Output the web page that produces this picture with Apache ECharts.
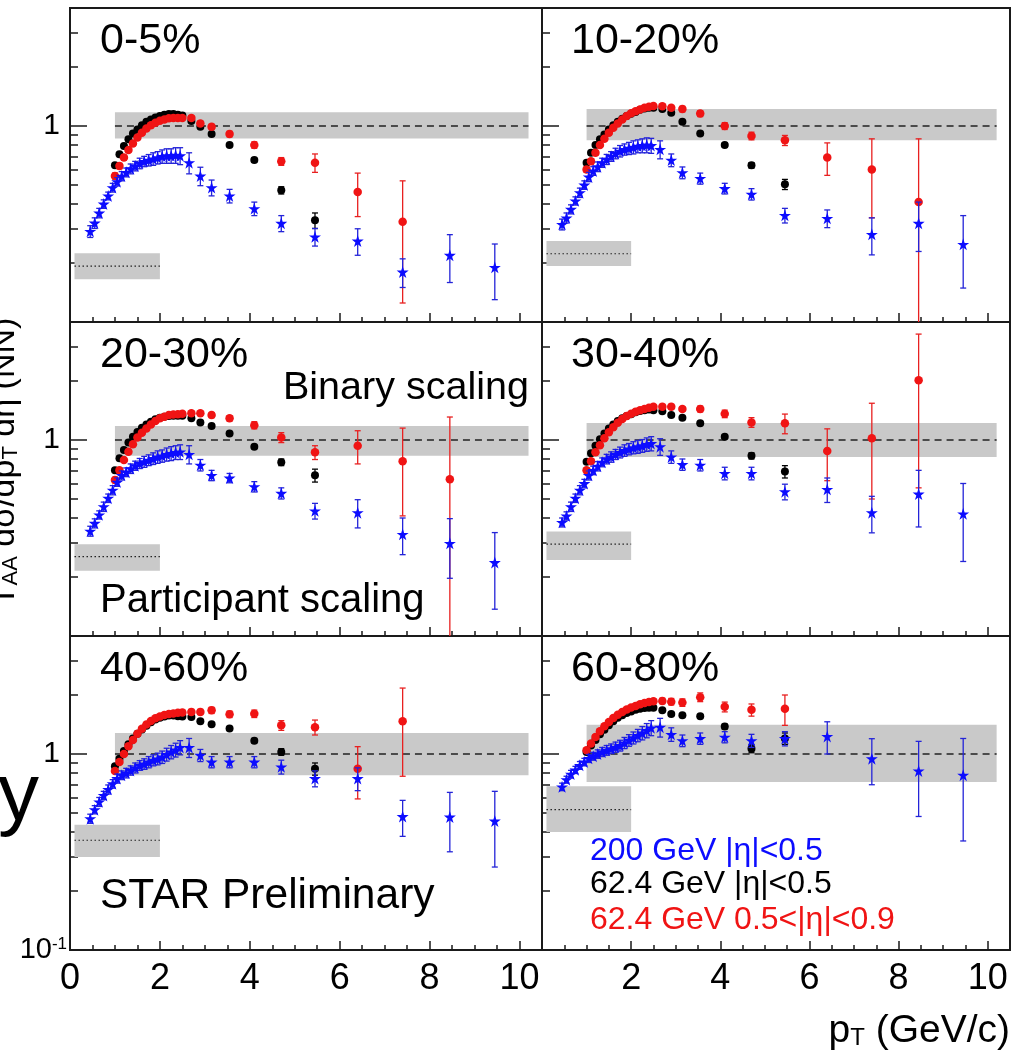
<!DOCTYPE html>
<html><head><meta charset="utf-8">
<script src="https://cdn.jsdelivr.net/npm/echarts@6/dist/echarts.min.js"></script>
<style>html,body{margin:0;padding:0;background:#fff}#c{width:1014px;height:1053px}</style>
</head><body><div id="c"></div><script>
// ---------------- DATA ----------------
const centrality = ['0-5%', '10-20%', '20-30%', '30-40%', '40-60%', '60-80%'];
const xTickLabelsLeft = [0, 2, 4, 6, 8, 10];
const xTickLabelsRight = [2, 4, 6, 8, 10];
const yMinorTicks = [0.2, 0.3, 0.4, 0.5, 0.6, 0.7, 0.8, 0.9, 2, 3];
const xMinorTicks = [0.5, 1, 1.5, 2.5, 3, 3.5, 4.5, 5, 5.5, 6.5, 7, 7.5, 8.5, 9, 9.5];
const xMajorTicks = [2, 4, 6, 8, 10];

// pT bins (GeV/c)
const ptBlue = [0.45,0.55,0.65,0.75,0.85,0.95,1.05,1.15,1.25,1.35,1.45,1.55,1.65,1.75,1.85,1.95,2.05,2.15,2.25,2.35,2.45,
  2.65,2.9,3.15,3.55,4.1,4.7,5.45,6.4,7.4,8.45,9.45];
const ptBlack = [1.0,1.1,1.2,1.3,1.4,1.5,1.6,1.7,1.8,1.9,2.0,2.1,2.2,2.3,2.4,2.5, 2.7,2.9,3.15,3.55,4.1,4.7,5.45];
const ptRed = [1.0,1.1,1.2,1.3,1.4,1.5,1.6,1.7,1.8,1.9,2.0,2.1,2.2,2.3,2.4,2.5, 2.7,2.9,3.15,3.55,4.1,4.7,5.45,6.4,7.4,8.45];

// 200 GeV |eta|<0.5 (blue), one list per centrality panel
const blue200 = [
  [0.29,0.32,0.36,0.40,0.44,0.485,0.52,0.555,0.58,0.605,0.625,0.645,0.66,0.67,0.68,0.69,0.70,0.705,0.705,0.71,0.705, 0.65,0.556,0.485,0.44,0.379,0.319,0.272,0.259,0.18,0.219,0.19],
  [0.315,0.34,0.376,0.415,0.457,0.50,0.55,0.59,0.62,0.65,0.676,0.70,0.725,0.745,0.76,0.77,0.78,0.79,0.795,0.80,0.795, 0.76,0.67,0.578,0.54,0.48,0.449,0.35,0.338,0.28,0.319,0.249],
  [0.343,0.376,0.415,0.457,0.505,0.555,0.61,0.66,0.685,0.715,0.74,0.76,0.775,0.79,0.805,0.82,0.83,0.845,0.855,0.865,0.87, 0.845,0.745,0.66,0.64,0.578,0.535,0.435,0.426,0.33,0.297,0.237],
  [0.38,0.41,0.457,0.505,0.555,0.60,0.66,0.70,0.735,0.77,0.80,0.82,0.845,0.865,0.885,0.90,0.915,0.925,0.935,0.95,0.96, 0.925,0.82,0.75,0.745,0.676,0.676,0.545,0.56,0.426,0.53,0.42],
  [0.468,0.52,0.57,0.615,0.66,0.705,0.75,0.78,0.80,0.825,0.85,0.875,0.89,0.91,0.93,0.945,0.965,0.995,1.025,1.05,1.08, 1.08,0.985,0.91,0.91,0.91,0.86,0.75,0.75,0.48,0.477,0.455],
  [0.68,0.74,0.79,0.83,0.875,0.91,0.95,0.975,1.0,1.025,1.045,1.065,1.085,1.105,1.14,1.175,1.21,1.245,1.28,1.32,1.36, 1.37,1.26,1.17,1.2,1.22,1.17,1.2,1.23,0.947,0.82,0.78]
];
const blue200Err = [
  [0.02,0.02,0.02,0.02,0.02,0.025,0.025,0.03,0.03,0.035,0.035,0.04,0.04,0.045,0.05,0.05,0.055,0.06,0.06,0.065,0.07, 0.08,0.06,0.045,0.035,0.03,0.03,0.028,0.04,0.03,0.06,0.06],
  [0.02,0.02,0.02,0.02,0.025,0.025,0.03,0.03,0.035,0.035,0.04,0.04,0.045,0.05,0.05,0.055,0.06,0.06,0.065,0.07,0.07, 0.08,0.05,0.04,0.035,0.03,0.03,0.03,0.035,0.06,0.09,0.1],
  [0.02,0.02,0.02,0.025,0.025,0.03,0.03,0.035,0.035,0.04,0.04,0.045,0.05,0.05,0.055,0.06,0.06,0.065,0.07,0.07,0.075, 0.09,0.05,0.04,0.035,0.035,0.035,0.04,0.07,0.07,0.1,0.1],
  [0.02,0.02,0.025,0.025,0.03,0.03,0.035,0.035,0.04,0.04,0.045,0.05,0.05,0.055,0.06,0.06,0.065,0.07,0.07,0.075,0.08, 0.09,0.06,0.05,0.05,0.05,0.05,0.05,0.08,0.09,0.17,0.18],
  [0.025,0.025,0.03,0.03,0.035,0.035,0.04,0.04,0.045,0.045,0.05,0.05,0.055,0.06,0.06,0.065,0.07,0.075,0.08,0.085,0.09, 0.12,0.07,0.06,0.06,0.06,0.07,0.07,0.1,0.1,0.16,0.19],
  [0.03,0.03,0.035,0.035,0.04,0.04,0.045,0.045,0.05,0.055,0.06,0.06,0.065,0.07,0.075,0.08,0.085,0.09,0.1,0.11,0.12, 0.15,0.1,0.08,0.08,0.08,0.09,0.1,0.23,0.25,0.34,0.42]
];

// 62.4 GeV |eta|<0.5 (black)
const black62 = [
  [0.63,0.717,0.79,0.855,0.915,0.96,1.01,1.05,1.08,1.105,1.125,1.14,1.15,1.15,1.14,1.13, 1.06,0.99,0.91,0.80,0.67,0.47,0.33],
  [0.65,0.73,0.80,0.855,0.905,0.96,1.01,1.05,1.09,1.125,1.155,1.18,1.21,1.23,1.24,1.24, 1.22,1.17,1.05,0.915,0.80,0.63,0.504],
  [0.70,0.806,0.89,0.97,1.04,1.10,1.155,1.20,1.24,1.275,1.30,1.315,1.325,1.33,1.33,1.33, 1.29,1.23,1.18,1.08,0.925,0.77,0.66],
  [0.775,0.855,0.935,1.01,1.08,1.145,1.20,1.25,1.29,1.325,1.355,1.385,1.405,1.42,1.43,1.42, 1.40,1.34,1.30,1.216,1.04,0.83,0.69],
  [0.865,0.945,1.035,1.12,1.20,1.27,1.335,1.395,1.45,1.50,1.53,1.555,1.57,1.57,1.56,1.555, 1.545,1.47,1.42,1.35,1.17,1.025,0.84],
  [1.025,1.105,1.18,1.26,1.33,1.40,1.47,1.53,1.575,1.62,1.65,1.68,1.70,1.715,1.72,1.72, 1.67,1.60,1.575,1.56,1.38,1.065,1.2]
];
const black62Err = [
  [0,0,0,0,0,0,0,0,0,0,0,0,0,0,0,0, 0.01,0.01,0.01,0.01,0.015,0.02,0.03],
  [0,0,0,0,0,0,0,0,0,0,0,0,0,0,0,0, 0.01,0.01,0.01,0.015,0.015,0.02,0.03],
  [0,0,0,0,0,0,0,0,0,0,0,0,0,0,0,0, 0.01,0.01,0.015,0.015,0.02,0.03,0.05],
  [0,0,0,0,0,0,0,0,0,0,0,0,0,0,0,0, 0.01,0.015,0.015,0.02,0.02,0.03,0.05],
  [0,0,0,0,0,0,0,0,0,0,0,0,0,0,0,0, 0.015,0.015,0.02,0.02,0.03,0.04,0.06],
  [0,0,0,0,0,0,0,0,0,0,0,0,0,0,0,0, 0.02,0.02,0.02,0.03,0.04,0.05,0.08]
];

// 62.4 GeV 0.5<|eta|<0.9 (red)
const red62 = [
  [0.556,0.625,0.69,0.755,0.815,0.873,0.925,0.97,1.01,1.04,1.065,1.08,1.095,1.10,1.10,1.10, 1.10,1.03,0.99,0.91,0.80,0.66,0.65,0.46,0.325],
  [0.60,0.66,0.73,0.80,0.86,0.925,0.98,1.03,1.08,1.125,1.16,1.19,1.215,1.24,1.255,1.265, 1.26,1.24,1.22,1.157,1.0,0.89,0.845,0.69,0.60,0.41],
  [0.625,0.70,0.79,0.87,0.95,1.03,1.09,1.145,1.20,1.25,1.29,1.315,1.34,1.35,1.355,1.36, 1.37,1.37,1.34,1.29,1.19,1.03,0.865,0.935,0.78,0.63],
  [0.70,0.78,0.865,0.94,1.02,1.095,1.16,1.225,1.28,1.325,1.36,1.395,1.42,1.44,1.46,1.48, 1.48,1.48,1.44,1.44,1.36,1.23,1.216,0.88,1.02,2.02],
  [0.82,0.91,1.0,1.095,1.18,1.27,1.345,1.415,1.475,1.52,1.555,1.58,1.60,1.61,1.625,1.63, 1.64,1.64,1.67,1.595,1.605,1.40,1.37,0.84,1.47],
  [1.045,1.13,1.22,1.305,1.385,1.455,1.525,1.585,1.64,1.685,1.725,1.76,1.795,1.82,1.84,1.86, 1.865,1.85,1.83,1.95,1.74,1.68,1.70]
];
const red62Err = [
  [0.02,0.02,0.02,0.02,0.02,0.02,0.02,0.02,0.02,0.02,0.02,0.02,0.02,0.02,0.02,0.02, 0.03,0.03,0.03,0.03,0.03,0.03,0.07,0.115,0.2],
  [0.02,0.02,0.02,0.02,0.02,0.02,0.02,0.02,0.02,0.02,0.025,0.025,0.025,0.025,0.025,0.025, 0.03,0.03,0.04,0.04,0.04,0.04,0.05,0.13,0.26,0.45],
  [0.02,0.02,0.02,0.02,0.02,0.02,0.02,0.02,0.025,0.025,0.025,0.025,0.025,0.025,0.03,0.03, 0.03,0.03,0.04,0.04,0.05,0.06,0.07,0.18,0.37,0.68],
  [0.02,0.02,0.02,0.02,0.02,0.025,0.025,0.025,0.025,0.03,0.03,0.03,0.03,0.03,0.03,0.03, 0.04,0.04,0.04,0.05,0.06,0.07,0.14,0.26,0.52,1.45],
  [0.02,0.02,0.02,0.025,0.025,0.025,0.03,0.03,0.03,0.03,0.035,0.035,0.035,0.035,0.04,0.04, 0.05,0.05,0.06,0.06,0.07,0.08,0.12,0.25,0.7],
  [0.025,0.025,0.03,0.03,0.03,0.035,0.035,0.035,0.04,0.04,0.04,0.045,0.045,0.05,0.05,0.05, 0.06,0.07,0.08,0.1,0.1,0.12,0.3]
];

// Normalisation bands: binary scaling (around 1) and participant scaling
const binaryX = [1.0, 10.2];
const binaryLow = [0.863, 0.845, 0.83, 0.82, 0.78, 0.72];
const binaryHigh = [1.175, 1.22, 1.18, 1.22, 1.28, 1.41];
const partX = [0.1, 2.0];
const partLow = [0.165, 0.193, 0.215, 0.244, 0.298, 0.40];
const partHigh = [0.224, 0.259, 0.294, 0.341, 0.435, 0.684];
const partMid = [0.193, 0.223, 0.254, 0.294, 0.363, 0.52];

// ---------------- CHART ----------------
const FONT = '"Liberation Sans", Arial, Helvetica, sans-serif';
const COL_BLUE = '#0c0cff', COL_RED = '#f01414', COL_BLACK = '#000000';
const STAR = 'path://M50,0 L61.2,34.5 L97.6,34.5 L68.2,55.9 L79.4,90.5 L50,69.1 L20.6,90.5 L31.8,55.9 L2.4,34.5 L38.8,34.5 Z';

function rect(i) {
  const row = Math.floor(i / 2), col = i % 2;
  return { left: col ? 542 : 70, top: 8 + row * 314, width: col ? 468 : 472, height: 314 };
}

function errItem(params, api) {
  const x = api.value(0), y = api.value(1), e = api.value(2);
  if (!(e > 0)) return null;
  const hi = api.coord([x, y + e]);
  const lo = api.coord([x, Math.max(y - e, 0.02)]);
  const c = 3;
  const st = { stroke: api.visual('color'), lineWidth: 1.3 };
  return { type: 'group', children: [
    { type: 'line', shape: { x1: hi[0], y1: hi[1], x2: lo[0], y2: lo[1] }, style: st },
    { type: 'line', shape: { x1: hi[0] - c, y1: hi[1], x2: hi[0] + c, y2: hi[1] }, style: st },
    { type: 'line', shape: { x1: lo[0] - c, y1: lo[1], x2: lo[0] + c, y2: lo[1] }, style: st }
  ]};
}

function bandItem(params, api) {
  const x0 = api.value(0), x1 = api.value(1), lo = api.value(2), hi = api.value(3), mid = api.value(4), dashed = api.value(5);
  const p0 = api.coord([x0, hi]), p1 = api.coord([x1, lo]);
  const m0 = api.coord([x0, mid]), m1 = api.coord([x1, mid]);
  return { type: 'group', children: [
    { type: 'rect', shape: { x: p0[0], y: p0[1], width: p1[0] - p0[0], height: p1[1] - p0[1] }, style: { fill: '#c9c9c9' } },
    { type: 'line', shape: { x1: m0[0], y1: m0[1], x2: m1[0], y2: m1[1] },
      style: { stroke: '#222', lineWidth: dashed ? 1.6 : 1.2, lineDash: dashed ? [7, 5] : [1.5, 2.5] } }
  ]};
}

const grids = [], xAxes = [], yAxes = [], series = [], graphic = [];
for (let i = 0; i < 6; i++) {
  const r = rect(i), row = Math.floor(i / 2), col = i % 2;
  grids.push(Object.assign({ show: true, borderColor: '#1a1a1a', borderWidth: 2, backgroundColor: 'transparent', containLabel: false }, r));
  const isBottom = row === 2;
  xAxes.push({
    type: 'value', gridIndex: i, min: 0, max: 10.5, position: 'bottom',
    axisLine: { show: false }, splitLine: { show: false },
    axisTick: { show: true, inside: true, length: 9, customValues: xMajorTicks, lineStyle: { color: '#1a1a1a', width: 1.5 } },
    axisLabel: isBottom ? { show: true, customValues: col ? xTickLabelsRight : xTickLabelsLeft, fontSize: 36, fontFamily: FONT, color: '#000', margin: 11 } : { show: false }
  });
  xAxes.push({
    type: 'value', gridIndex: i, min: 0, max: 10.5, position: 'bottom', offset: 0,
    axisLine: { show: false }, splitLine: { show: false },
    axisTick: { show: true, inside: true, length: 5, customValues: xMinorTicks, lineStyle: { color: '#1a1a1a', width: 1.5 } },
    axisLabel: { show: false }
  });
  yAxes.push({
    type: 'log', logBase: 10, gridIndex: i, min: 0.1, max: 4, position: 'left',
    axisLine: { show: false }, splitLine: { show: false },
    axisTick: { show: true, inside: true, length: 8, customValues: yMinorTicks, lineStyle: { color: '#1a1a1a', width: 1.5 } },
    axisLabel: { show: false }
  });
  const labelVals = col === 0 ? (row === 2 ? [0.1, 1] : [1]) : [];
  yAxes.push({
    type: 'log', logBase: 10, gridIndex: i, min: 0.1, max: 4, position: 'left', offset: 0,
    axisLine: { show: false }, splitLine: { show: false },
    axisTick: { show: true, inside: true, length: 17, customValues: [1], lineStyle: { color: '#1a1a1a', width: 1.5 } },
    axisLabel: col === 0 ? {
      show: true, customValues: labelVals, margin: 3, color: '#000', fontFamily: FONT,
      formatter: v => (v < 0.5 ? '{a|10}{b|-1}' : '{c|1}'),
      rich: {
        a: { fontSize: 29, fontFamily: FONT, color: '#000' },
        b: { fontSize: 17, fontFamily: FONT, color: '#000', verticalAlign: 'top' },
        c: { fontSize: 30, fontFamily: FONT, color: '#000', padding: [0, 7, 0, 0] }
      }
    } : { show: false }
  });

  const xi = 2 * i, yi = 2 * i;
  series.push({
    type: 'custom', name: 'bands' + i, xAxisIndex: xi, yAxisIndex: yi, z: 1, silent: true, clip: true,
    renderItem: bandItem,
    data: [
      [binaryX[0], binaryX[1], binaryLow[i], binaryHigh[i], 1, 1],
      [partX[0], partX[1], partLow[i], partHigh[i], partMid[i], 0]
    ]
  });
  const sets = [
    { name: '62.4 GeV |η|<0.5', pt: ptBlack, v: black62[i], e: black62Err[i], color: COL_BLACK, ecolor: '#000', symbol: 'circle', size: 8 },
    { name: '62.4 GeV 0.5<|η|<0.9', pt: ptRed, v: red62[i], e: red62Err[i], color: COL_RED, ecolor: '#e82020', symbol: 'circle', size: 8.5 },
    { name: '200 GeV |η|<0.5', pt: ptBlue, v: blue200[i], e: blue200Err[i], color: COL_BLUE, ecolor: '#2424d8', symbol: STAR, size: 12 }
  ];
  sets.forEach((s, k) => {
    series.push({
      type: 'custom', name: s.name + ' err', xAxisIndex: xi, yAxisIndex: yi, z: 2 + 2 * k, silent: true, clip: true,
      itemStyle: { color: s.ecolor },
      renderItem: errItem,
      data: s.v.map((y, j) => [s.pt[j], y, s.e[j]])
    });
    series.push({
      type: 'scatter', name: s.name, xAxisIndex: xi, yAxisIndex: yi, z: 3 + 2 * k, silent: true, clip: true,
      symbol: s.symbol, symbolSize: s.size, itemStyle: { color: s.color, opacity: 1 },
      data: s.v.map((y, j) => [s.pt[j], y])
    });
  });

  graphic.push({ type: 'text', x: col ? 571 : 100, y: r.top + 33, z: 50,
    style: { text: centrality[i], fontSize: 43, fontFamily: FONT, fill: '#000', align: 'left', verticalAlign: 'middle', textAlign: 'left', textVerticalAlign: 'middle' } });
}

const txt = (t, x, y, size, color, align) => ({ type: 'text', x, y, z: 50,
  style: { text: t, fontSize: size, fontFamily: FONT, fill: color, align: align || 'left', verticalAlign: 'middle', textAlign: align || 'left', textVerticalAlign: 'middle' } });
graphic.push(txt('Binary scaling', 283, 388, 39.5, '#000'));
graphic.push(txt('Participant scaling', 100, 601, 40, '#000'));
graphic.push(txt('STAR Preliminary', 100, 896, 42.5, '#000'));
graphic.push(txt('200 GeV |η|<0.5', 590, 851, 32, COL_BLUE));
graphic.push(txt('62.4 GeV |η|<0.5', 590, 884, 32, '#000'));
graphic.push(txt('62.4 GeV 0.5<|η|<0.9', 590, 920, 32, COL_RED));
graphic.push(txt('y', -2, 797, 82, '#000'));
graphic.push({ type: 'text', x: 1010, y: 1031, z: 50,
  style: { text: '{m|p}{s|T}{m| (GeV/c)}', align: 'right', verticalAlign: 'middle', textAlign: 'right', textVerticalAlign: 'middle', fill: '#000',
    rich: { m: { fontSize: 39, fontFamily: FONT, color: '#000' }, s: { fontSize: 24, fontFamily: FONT, color: '#000', verticalAlign: 'bottom' } } } });
graphic.push({ type: 'text', x: 22, y: 462, rotation: Math.PI / 2, z: 50,
  style: { text: '{m|T}{s|AA}{m| dσ/dp}{s|T}{m| dη (NN)}', align: 'center', verticalAlign: 'bottom', textAlign: 'center', textVerticalAlign: 'bottom',
    rich: { m: { fontSize: 34, fontFamily: FONT, color: '#000' }, s: { fontSize: 22, fontFamily: FONT, color: '#000', verticalAlign: 'bottom' } } } });

const chart = echarts.init(document.getElementById('c'), null, { renderer: 'canvas' });
chart.setOption({
  animation: false,
  backgroundColor: '#fff',
  grid: grids, xAxis: xAxes, yAxis: yAxes, series: series, graphic: graphic
});
</script></body></html>
